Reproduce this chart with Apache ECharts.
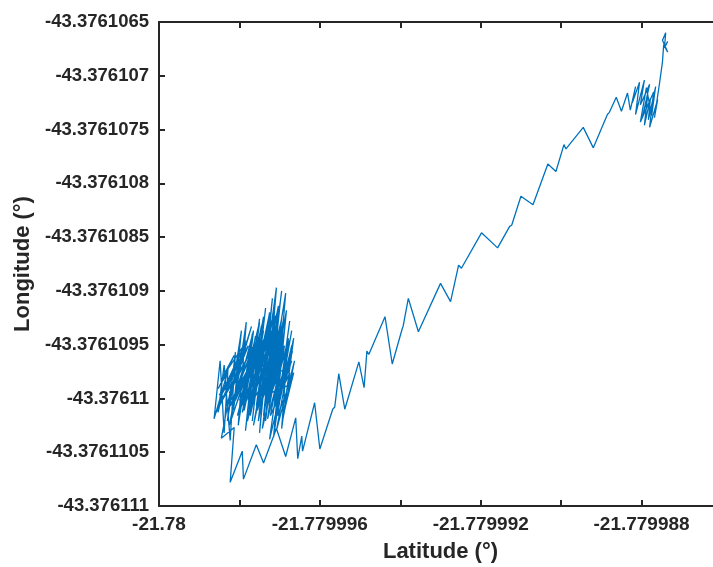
<!DOCTYPE html>
<html>
<head>
<meta charset="utf-8">
<script src="https://cdn.jsdelivr.net/npm/echarts@6/dist/echarts.min.js"></script>
<style>
html,body{margin:0;padding:0;background:#fff;}
#chart{width:713px;height:567px;}
</style>
</head>
<body>
<div id="chart"></div>
<script>
const xTitle = 'Latitude (°)';
const yTitle = 'Longitude (°)';

const latitude = [
-21.77999793,-21.77999750,-21.77999775,-21.77999730,-21.77999755,-21.77999710,-21.77999735,-21.77999690,-21.77999720,-21.77999675,
-21.77999703,-21.77999670,-21.77999695,-21.77999683,-21.77999725,-21.77999698,-21.77999760,-21.77999718,-21.77999780,-21.77999735,
-21.77999798,-21.77999753,-21.77999813,-21.77999768,-21.77999795,-21.77999748,-21.77999773,-21.77999728,-21.77999753,-21.77999708,
-21.77999733,-21.77999688,-21.77999713,-21.77999678,-21.77999703,-21.77999690,-21.77999740,-21.77999720,-21.77999785,-21.77999765,
-21.77999810,-21.77999765,-21.77999788,-21.77999745,-21.77999770,-21.77999728,-21.77999758,-21.77999713,-21.77999740,-21.77999698,
-21.77999725,-21.77999683,-21.77999710,-21.77999670,-21.77999698,-21.77999668,-21.77999715,-21.77999690,-21.77999745,-21.77999705,
-21.77999765,-21.77999723,-21.77999790,-21.77999740,-21.77999808,-21.77999760,-21.77999825,-21.77999778,-21.77999835,-21.77999795,
-21.77999845,-21.77999800,-21.77999820,-21.77999763,-21.77999793,-21.77999735,-21.77999773,-21.77999715,-21.77999750,-21.77999695,
-21.77999730,-21.77999678,-21.77999705,-21.77999665,-21.77999688,-21.77999680,-21.77999735,-21.77999700,-21.77999780,-21.77999750,
-21.77999805,-21.77999770,-21.77999815,-21.77999790,-21.77999840,-21.77999813,-21.77999853,-21.77999830,
-21.77999863,-21.77999848,-21.77999838,-21.77999828,-21.77999853,-21.77999838,-21.77999823,-21.77999810,-21.77999830,-21.77999795,
-21.77999815,-21.77999783,-21.77999803,-21.77999768,-21.77999790,-21.77999760,-21.77999785,-21.77999750,-21.77999778,-21.77999740,
-21.77999768,-21.77999735,-21.77999760,-21.77999725,-21.77999750,-21.77999718,-21.77999743,-21.77999708,-21.77999735,-21.77999695,
-21.77999728,-21.77999685,-21.77999715,-21.77999675,-21.77999705,-21.77999665,-21.77999695,-21.77999680,-21.77999710,-21.77999688,
-21.77999730,-21.77999703,-21.77999755,-21.77999715,-21.77999775,-21.77999730,-21.77999800,-21.77999750,-21.77999823,-21.77999770,
-21.77999840,-21.77999785,-21.77999825,-21.77999760,-21.77999805,-21.77999740,-21.77999780,-21.77999720,-21.77999765,-21.77999703,
-21.77999743,-21.77999688,-21.77999725,-21.77999670,-21.77999708,-21.77999663,-21.77999693,-21.77999675,-21.77999723,-21.77999693,
-21.77999750,-21.77999710,-21.77999780,-21.77999730,-21.77999803,-21.77999748,-21.77999833,-21.77999788,-21.77999850,-21.77999805,
-21.77999858,-21.77999818,-21.77999845,-21.77999813,-21.77999823,-21.77999793,-21.77999790,-21.77999758,-21.77999740,-21.77999708,
-21.77999685,-21.77999660,-21.77999655,-21.77999645,-21.77999643,-21.77999613,-21.77999600,-21.77999568,-21.77999563,-21.77999553,
-21.77999538,-21.77999503,-21.77999490,-21.77999483,-21.77999478,-21.77999438,-21.77999420,-21.77999395,-21.77999393,-21.77999380,
-21.77999355,-21.77999300,-21.77999275,-21.77999255,-21.77999248,-21.77999198,-21.77999158,-21.77999128,-21.77999123,-21.77999100,
-21.77999070,-21.77999033,-21.77999013,-21.77998993,-21.77998988,-21.77998945,-21.77998920,-21.77998885,-21.77998880,-21.77998863,
-21.77998850,-21.77998835,-21.77998828,-21.77998815,-21.77998823,-21.77998805,-21.77998815,-21.77998793,-21.77998803,-21.77998780,
-21.77998798,-21.77998785,-21.77998793,-21.77998778,-21.77998783,-21.77998765,-21.77998775,
-21.77998788,-21.77998803,-21.77998770,-21.77998780,-21.77998760,-21.77998768,
-21.77998755,-21.77998748,-21.77998745,
-21.77998735,-21.77998748,-21.77998740,-21.77998743,-21.77998735
];

const longitude = [
-43.37610995,-43.37610929,-43.37611004,-43.37610933,-43.37611000,-43.37610923,-43.37611002,-43.37610926,-43.37610995,-43.37610946,
-43.37611002,-43.37610965,-43.37610988,-43.37610957,-43.37610984,-43.37610944,-43.37610976,-43.37610939,-43.37610984,-43.37610942,
-43.37610989,-43.37610954,-43.37610998,-43.37610946,-43.37611007,-43.37610944,-43.37611016,-43.37610937,-43.37611021,-43.37610933,
-43.37611011,-43.37610951,-43.37611007,-43.37610967,-43.37610991,-43.37610974,-43.37610979,-43.37610956,-43.37610970,-43.37610961,
-43.37611002,-43.37610937,-43.37611011,-43.37610932,-43.37611000,-43.37610926,-43.37611007,-43.37610918,-43.37611016,-43.37610909,
-43.37611007,-43.37610918,-43.37611021,-43.37610937,-43.37610997,-43.37610956,-43.37611002,-43.37610942,-43.37610993,-43.37610928,
-43.37610988,-43.37610935,-43.37610984,-43.37610946,-43.37610993,-43.37610948,-43.37610995,-43.37610951,-43.37610988,-43.37610956,
-43.37610997,-43.37610967,-43.37611019,-43.37610957,-43.37611013,-43.37610951,-43.37611007,-43.37610944,-43.37611013,-43.37610926,
-43.37611019,-43.37610944,-43.37611016,-43.37610976,-43.37611011,-43.37610988,-43.37610997,-43.37610951,-43.37610976,-43.37610942,
-43.37610979,-43.37610933,-43.37610987,-43.37610951,-43.37610979,-43.37610960,-43.37610991,-43.37610976,
-43.37611019,-43.37610965,-43.37611032,-43.37610970,-43.37611013,-43.37610969,-43.37611039,-43.37610957,-43.37611021,-43.37610937,
-43.37611011,-43.37610929,-43.37611025,-43.37610940,-43.37610997,-43.37610942,-43.37611030,-43.37610926,-43.37611002,-43.37610924,
-43.37611021,-43.37610916,-43.37610997,-43.37610920,-43.37611032,-43.37610907,-43.37610993,-43.37610897,-43.37611021,-43.37610900,
-43.37611002,-43.37610902,-43.37611036,-43.37610928,-43.37611011,-43.37610944,-43.37611028,-43.37610951,-43.37610984,-43.37610926,
-43.37611004,-43.37610937,-43.37611011,-43.37610933,-43.37610995,-43.37610942,-43.37611002,-43.37610951,-43.37611007,-43.37610956,
-43.37611000,-43.37610946,-43.37611025,-43.37610951,-43.37611016,-43.37610937,-43.37611021,-43.37610928,-43.37611025,-43.37610914,
-43.37611028,-43.37610937,-43.37611038,-43.37610951,-43.37611030,-43.37610965,-43.37611021,-43.37610976,-43.37611016,-43.37610956,
-43.37611007,-43.37610965,-43.37611011,-43.37610961,-43.37611013,-43.37610965,-43.37611007,-43.37610960,-43.37610997,-43.37610970,
-43.37611013,-43.37610984,-43.37611037,-43.37611027,-43.37611078,-43.37611049,-43.37611075,-43.37611043,-43.37611060,-43.37611028,
-43.37611054,-43.37611018,-43.37611056,-43.37611035,-43.37611049,-43.37611004,-43.37611047,-43.37611010,-43.37611008,-43.37610977,
-43.37611010,-43.37610966,-43.37610990,-43.37610956,-43.37610959,-43.37610924,-43.37610968,-43.37610935,-43.37610933,-43.37610907,
-43.37610938,-43.37610893,-43.37610910,-43.37610876,-43.37610879,-43.37610846,-43.37610860,-43.37610840,-43.37610839,-43.37610812,
-43.37610820,-43.37610782,-43.37610789,-43.37610764,-43.37610768,-43.37610748,-43.37610767,-43.37610736,-43.37610734,-43.37610720,
-43.37610733,-43.37610716,-43.37610732,-43.37610710,-43.37610725,-43.37610706,-43.37610736,-43.37610704,-43.37610727,-43.37610708,
-43.37610739,-43.37610719,-43.37610746,-43.37610721,-43.37610741,-43.37610710,-43.37610737,
-43.37610711,-43.37610743,-43.37610715,-43.37610748,-43.37610722,-43.37610739,
-43.37610706,-43.37610687,-43.37610671,
-43.37610678,-43.37610667,-43.37610660,-43.37610674,-43.37610668
];

const xMin = -21.78, xMax = -21.779986, xStep = 0.000004;
const yMin = -43.376111, yMax = -43.3761065, yStep = 0.0000005;

const points = latitude.map((v, i) => [v, longitude[i]]);

const axisColor = '#262626';
const font = '"Liberation Sans", Arial, Helvetica, sans-serif';

function fmt(v) { return String(parseFloat(v.toFixed(7))); }
function xFmt(v) {
  const k = (v - xMin) / xStep;
  if (Math.abs(k - Math.round(k)) > 1e-3) return '';
  return fmt(v);
}

const chart = echarts.init(document.getElementById('chart'), null, {renderer: 'canvas'});
chart.setOption({
  animation: false,
  backgroundColor: '#ffffff',
  grid: {left: 159, width: 563, top: 22, height: 484, containLabel: false, outerBoundsMode: 'none'},
  xAxis: [{
    type: 'value', min: xMin, max: xMax, interval: xStep, position: 'bottom',
    name: xTitle, nameLocation: 'middle', nameGap: 35,
    nameTextStyle: {fontFamily: font, fontWeight: 'bold', fontSize: 22, color: axisColor},
    axisLine: {show: true, onZero: false, lineStyle: {color: axisColor, width: 2}},
    axisTick: {show: true, inside: true, length: 6, lineStyle: {color: axisColor, width: 2}},
    minorTick: {show: true, splitNumber: 2, length: 6, lineStyle: {color: axisColor, width: 2}},
    splitLine: {show: false},
    axisLabel: {fontFamily: font, fontWeight: 'bold', fontSize: 19, color: axisColor, margin: 9, formatter: xFmt}
  }, {
    type: 'value', min: xMin, max: xMax, interval: xStep, position: 'top',
    axisLine: {show: true, onZero: false, lineStyle: {color: axisColor, width: 2}},
    axisTick: {show: true, inside: true, length: 6, lineStyle: {color: axisColor, width: 2}},
    minorTick: {show: true, splitNumber: 2, length: 6, lineStyle: {color: axisColor, width: 2}},
    splitLine: {show: false},
    axisLabel: {show: false}
  }],
  yAxis: [{
    type: 'value', min: yMin, max: yMax, interval: yStep, position: 'left',
    name: yTitle, nameLocation: 'middle', nameGap: 122,
    nameTextStyle: {fontFamily: font, fontWeight: 'bold', fontSize: 22, color: axisColor},
    axisLine: {show: true, onZero: false, lineStyle: {color: axisColor, width: 2}},
    axisTick: {show: true, inside: true, length: 6, lineStyle: {color: axisColor, width: 2}},
    splitLine: {show: false},
    axisLabel: {fontFamily: font, fontWeight: 'bold', fontSize: 18.5, color: axisColor, margin: 10, formatter: fmt}
  }],
  series: [{
    type: 'line',
    xAxisIndex: 0, yAxisIndex: 0,
    data: points,
    showSymbol: false,
    symbol: 'none',
    lineStyle: {color: '#0072BD', width: 1.3},
    itemStyle: {color: '#0072BD'},
    clip: true
  }]
});
</script>
</body>
</html>
